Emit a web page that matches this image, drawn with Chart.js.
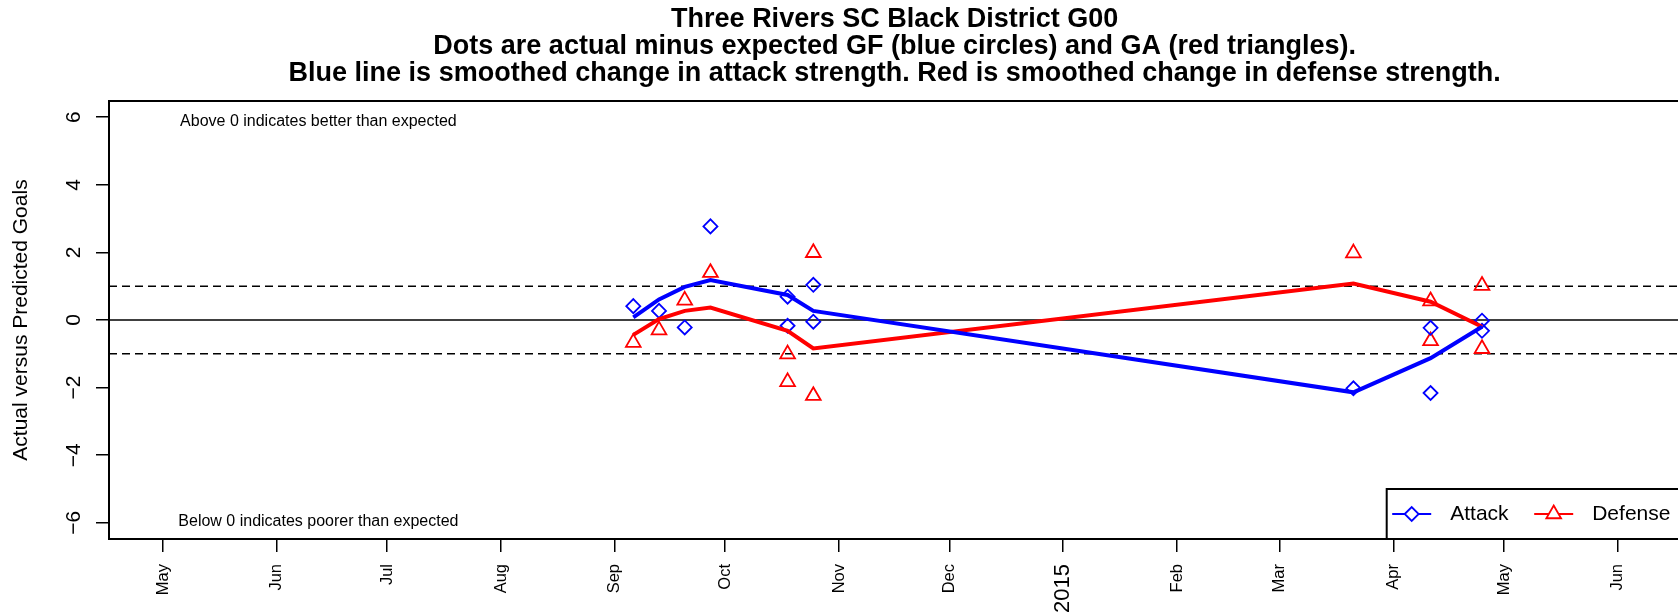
<!DOCTYPE html>
<html><head><meta charset="utf-8">
<script src="https://cdn.jsdelivr.net/npm/chart.js@4.4.0/dist/chart.umd.min.js"></script>
<style>
html,body{margin:0;padding:0;overflow:hidden;background:#fff;}
#wrap{width:1684px;height:616px;}
canvas{display:block;}
</style></head><body>
<div id="wrap"><canvas id="c" width="1684" height="616"></canvas></div>
<script>
// ---------- data ----------
const titleLines = [
  "Three Rivers SC Black District G00",
  "Dots are actual minus expected GF (blue circles) and GA (red triangles).",
  "Blue line is smoothed change in attack strength. Red is smoothed change in defense strength."
];
const yAxisTitle = "Actual versus Predicted Goals";
const noteAbove = "Above 0 indicates better than expected";
const noteBelow = "Below 0 indicates poorer than expected";
const legendLabels = ["Attack", "Defense"];

const gameDates = ["2014-09-06","2014-09-13","2014-09-20","2014-09-27","2014-10-18","2014-10-18",
                   "2014-10-25","2014-10-25","2015-03-21","2015-04-11","2015-04-11","2015-04-25","2015-04-25"];
const attackGoalDiff  = [0.41, 0.27, -0.22, 2.77, 0.69, -0.17, 1.04, -0.05, -2.02, -0.23, -2.16, -0.02, -0.32];
const defenseGoalDiff = [-0.67, -0.30, 0.58, 1.40, -1.01, -1.83, 1.99, -2.24, 1.98, 0.56, -0.62, 1.02, -0.85];

const smoothDates   = ["2014-09-06","2014-09-13","2014-09-20","2014-09-27","2014-10-18","2014-10-25",
                       "2015-03-21","2015-04-11","2015-04-25"];
const attackSmooth  = [0.08, 0.61, 0.98, 1.18, 0.74, 0.27, -2.14, -1.13, -0.20];
const defenseSmooth = [-0.44, 0.03, 0.27, 0.37, -0.32, -0.84, 1.08, 0.54, -0.20];

const monthTickDates  = ["2014-05-01","2014-06-01","2014-07-01","2014-08-01","2014-09-01","2014-10-01","2014-11-01",
                         "2014-12-01","2015-01-01","2015-02-01","2015-03-01","2015-04-01","2015-05-01","2015-06-01"];
const monthTickLabels = ["May","Jun","Jul","Aug","Sep","Oct","Nov","Dec","2015","Feb","Mar","Apr","May","Jun"];
const yTickValues = [-6, -4, -2, 0, 2, 4, 6];
const refLineValues = [0, 1, -1];

// ---------- helpers ----------
const DAY0 = Date.UTC(2014, 4, 1);
function dayOf(s) { const p = s.split('-').map(Number); return (Date.UTC(p[0], p[1]-1, p[2]) - DAY0) / 86400000; }
const FONT = '"Liberation Sans", Arial, Helvetica, sans-serif';
const X_MIN = -14.7, X_MAX = 413;
const BLUE = '#0000FF', RED = '#FF0000';

const pts = (dates, vals) => dates.map((d, i) => ({x: dayOf(d), y: vals[i]}));
const refDatasets = refLineValues.map(v => ({
  data: [{x: X_MIN, y: v}, {x: X_MAX, y: v}],
  borderColor: '#000', borderWidth: 1.6, borderDash: v === 0 ? [] : [8, 5],
  pointRadius: 0, showLine: true, order: 10
}));

// ---------- plugins ----------
const decor = {
  id: 'decor',
  afterDraw(chart) {
    const {ctx, chartArea: a, scales: {x, y}} = chart;
    ctx.save();
    // box
    ctx.strokeStyle = '#000'; ctx.lineWidth = 2;
    ctx.strokeRect(a.left, a.top, a.right - a.left, a.bottom - a.top);
    // title
    ctx.fillStyle = '#000';
    ctx.font = 'bold 27px ' + FONT;
    ctx.textAlign = 'center'; ctx.textBaseline = 'alphabetic';
    const cx = (a.left + a.right) / 2;
    titleLines.forEach((t, i) => ctx.fillText(t, cx, 26.5 + i * 27.3));
    // y tick labels (parallel to axis)
    ctx.font = '21px ' + FONT;
    yTickValues.forEach(v => {
      const py = y.getPixelForValue(v);
      ctx.save(); ctx.translate(a.left - 29, py); ctx.rotate(-Math.PI / 2);
      ctx.textAlign = 'center'; ctx.fillText(v < 0 ? '\u2212' + Math.abs(v) : String(v), 0, 0);
      ctx.restore();
    });
    // y axis title
    ctx.font = '21px ' + FONT;
    ctx.save(); ctx.translate(27, (a.top + a.bottom) / 2); ctx.rotate(-Math.PI / 2);
    ctx.textAlign = 'center'; ctx.fillText(yAxisTitle, 0, 0); ctx.restore();
    // notes
    ctx.font = '16px ' + FONT; ctx.textAlign = 'center'; ctx.textBaseline = 'middle';
    ctx.fillText(noteAbove, x.getPixelForValue(42.3), y.getPixelForValue(5.88));
    ctx.fillText(noteBelow, x.getPixelForValue(42.3), y.getPixelForValue(-5.97));
    // legend (bottom right)
    const lw = 293.7, lh = 50;
    const L = a.right - lw, T = a.bottom - lh, my = T + lh / 2;
    ctx.fillStyle = '#fff'; ctx.fillRect(L, T, lw, lh);
    ctx.strokeStyle = '#000'; ctx.lineWidth = 2; ctx.strokeRect(L, T, lw, lh);
    const items = [
      {c: BLUE, style: 'rectRot', r: 7, x0: L + 5.5, label: legendLabels[0], tx: L + 63.5},
      {c: RED, style: 'triangle', r: 8.5, x0: L + 147.5, label: legendLabels[1], tx: L + 205.5}
    ];
    items.forEach(it => {
      ctx.strokeStyle = it.c; ctx.lineWidth = 1.8;
      ctx.beginPath(); ctx.moveTo(it.x0, my); ctx.lineTo(it.x0 + 39, my); ctx.stroke();
      ctx.fillStyle = '#fff';
      Chart.helpers.drawPoint(ctx, {pointStyle: it.style, radius: it.r, borderWidth: 1.8}, it.x0 + 19.5, my);
      ctx.fillStyle = '#000'; ctx.font = '21px ' + FONT; ctx.textAlign = 'left'; ctx.textBaseline = 'middle';
      ctx.fillText(it.label, it.tx, my);
    });
    ctx.restore();
  }
};

new Chart(document.getElementById('c'), {
  type: 'line',
  data: {
    datasets: [
      ...refDatasets,
      {data: pts(gameDates, attackGoalDiff), showLine: false, pointStyle: 'rectRot', pointRadius: 7,
       pointBorderWidth: 1.8, pointBorderColor: BLUE, pointBackgroundColor: 'rgba(0,0,0,0)', order: 5},
      {data: pts(gameDates, defenseGoalDiff), showLine: false, pointStyle: 'triangle', pointRadius: 8.5,
       pointBorderWidth: 1.8, pointBorderColor: RED, pointBackgroundColor: 'rgba(0,0,0,0)', order: 5},
      {data: pts(smoothDates, attackSmooth), showLine: true, borderColor: BLUE, borderWidth: 4,
       pointRadius: 0, tension: 0, order: 1},
      {data: pts(smoothDates, defenseSmooth), showLine: true, borderColor: RED, borderWidth: 4,
       pointRadius: 0, tension: 0, order: 1}
    ]
  },
  options: {
    responsive: false, animation: false, devicePixelRatio: 1, events: [],
    layout: {autoPadding: false, padding: {top: 101, right: 3.6, bottom: 0, left: 0}},
    plugins: {legend: {display: false}, title: {display: false}, tooltip: {enabled: false}},
    scales: {
      x: {
        type: 'linear', min: X_MIN, max: X_MAX,
        afterBuildTicks: s => { s.ticks = monthTickDates.map(d => ({value: dayOf(d)})); },
        afterFit: s => { s.height = 77; s.paddingLeft = 0; s.paddingRight = 0; },
        ticks: {
          autoSkip: false, minRotation: 90, maxRotation: 90, padding: 12, color: '#000',
          callback: (v, i) => monthTickLabels[i],
          font: c => ({family: FONT, size: monthTickLabels[c.index] === '2015' ? 22 : 16.5})
        },
        grid: {drawOnChartArea: false, drawTicks: true, tickLength: 13, color: '#000', lineWidth: 1.5},
        border: {display: true, color: '#000', width: 2}
      },
      y: {
        type: 'linear', min: -6.48, max: 6.48,
        afterBuildTicks: s => { s.ticks = yTickValues.map(v => ({value: v})); },
        afterFit: s => { s.width = 109; s.paddingTop = 0; s.paddingBottom = 0; },
        ticks: {display: false},
        grid: {drawOnChartArea: false, drawTicks: true, tickLength: 13, color: '#000', lineWidth: 1.5},
        border: {display: true, color: '#000', width: 2}
      }
    }
  },
  plugins: [decor]
});
</script>
</body></html>
